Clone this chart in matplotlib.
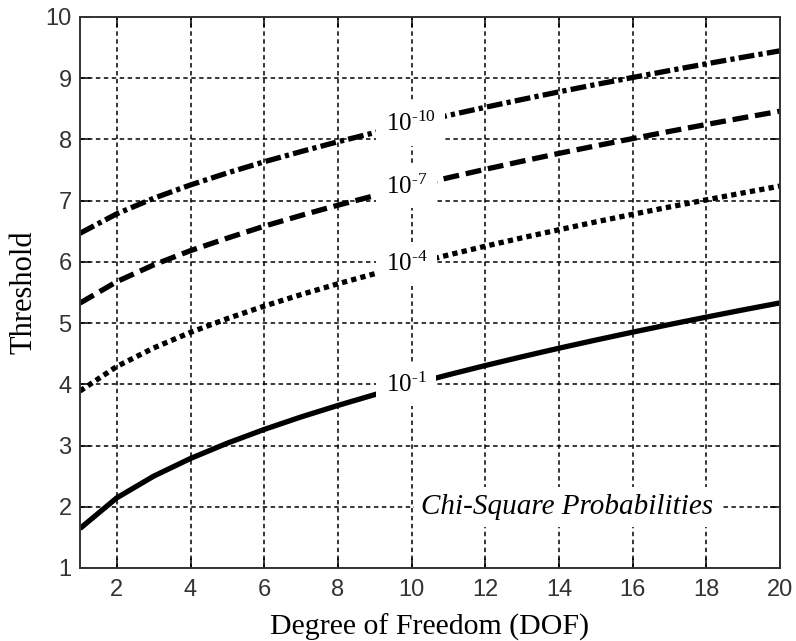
import matplotlib.pyplot as plt

# Chi-square thresholds vs. degrees of freedom
dof = [1, 2, 3, 4, 5, 6, 7, 8, 9, 10, 11, 12, 13, 14, 15, 16, 17, 18, 19, 20]

thr_1e1 = [1.645, 2.146, 2.500, 2.789, 3.039, 3.263, 3.467, 3.655, 3.832, 3.998,
           4.156, 4.307, 4.451, 4.590, 4.723, 4.852, 4.977, 5.098, 5.216, 5.330]
thr_1e4 = [3.891, 4.292, 4.594, 4.849, 5.074, 5.278, 5.466, 5.642, 5.807, 5.964,
           6.113, 6.256, 6.393, 6.525, 6.653, 6.777, 6.897, 7.013, 7.127, 7.238]
thr_1e7 = [5.327, 5.678, 5.951, 6.184, 6.388, 6.583, 6.759, 6.926, 7.082, 7.232,
           7.375, 7.512, 7.644, 7.772, 7.895, 8.014, 8.131, 8.244, 8.354, 8.461]
thr_1e10 = [6.467, 6.786, 7.039, 7.257, 7.453, 7.635, 7.802, 7.962, 8.111, 8.256,
            8.393, 8.525, 8.653, 8.777, 8.897, 9.012, 9.125, 9.235, 9.343, 9.447]

curve_labels = [r"$10^{\text{-}1}$", r"$10^{\text{-}4}$",
                r"$10^{\text{-}7}$", r"$10^{\text{-}10}$"]
label_dof = 9.3

plt.rcParams["mathtext.fontset"] = "custom"
plt.rcParams["mathtext.rm"] = "Liberation Serif"
plt.rcParams["mathtext.it"] = "Liberation Serif:italic"

fig = plt.figure(figsize=(7.96, 6.41), dpi=100)
ax = fig.add_axes([0.1005, 0.1139, 0.8794, 0.8596])

lw = 3.8
ax.plot(dof, thr_1e1, color="black", lw=lw, linestyle="-", solid_capstyle="butt")
ax.plot(dof, thr_1e4, color="black", lw=lw, linestyle=(0, (1.0, 0.8)))
ax.plot(dof, thr_1e7, color="black", lw=lw, linestyle=(0, (3.0, 1.3)))
ax.plot(dof, thr_1e10, color="black", lw=lw, linestyle=(0, (3.0, 0.8, 0.8, 0.8)))

# curve labels sit on the lines with a white background
for lab, series in zip(curve_labels, [thr_1e1, thr_1e4, thr_1e7, thr_1e10]):
    ax.text(label_dof, series[9], lab, fontsize=18, ha="left", va="center",
            family="Liberation Serif", zorder=5,
            bbox=dict(facecolor="white", edgecolor="none", pad=7))

ax.text(14.22, 2.0, "Chi-Square Probabilities", fontsize=21, style="italic",
        family="Liberation Serif", ha="center", va="center", zorder=5,
        bbox=dict(facecolor="white", edgecolor="none", pad=5))

ax.set_xlim(1, 20)
ax.set_ylim(1, 10)
ax.set_xticks([2, 4, 6, 8, 10, 12, 14, 16, 18, 20])
ax.set_yticks([1, 2, 3, 4, 5, 6, 7, 8, 9, 10])

ax.grid(True, color="black", lw=1.1, linestyle=(0, (2.9, 2.3)))
for ln in ax.get_xgridlines() + ax.get_ygridlines():
    ln.set_zorder(1.5)

ax.tick_params(direction="in", length=7, width=1.1, top=True, right=True,
               labelsize=17, colors="black")
ax.tick_params(axis="x", pad=8)
ax.tick_params(axis="y", pad=6)
for lbl in ax.get_xticklabels() + ax.get_yticklabels():
    lbl.set_family("Liberation Sans")
    lbl.set_color("#333333")

for sp in ax.spines.values():
    sp.set_linewidth(1.4)
    sp.set_color("#333333")

ax.set_xlabel("Degree of Freedom (DOF)", fontsize=21.5, family="Liberation Serif", labelpad=9)
ax.set_ylabel("Threshold", fontsize=22, family="Liberation Serif", labelpad=5)

fig.savefig("out.png", dpi=100)
